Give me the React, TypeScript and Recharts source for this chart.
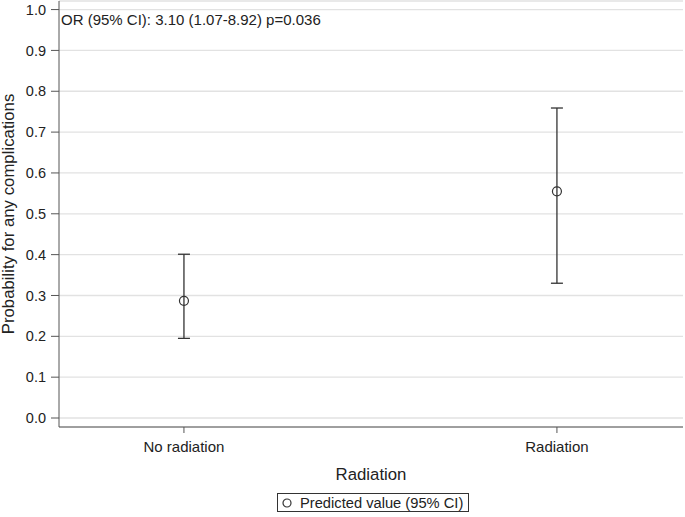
import React from "react";
import { ComposedChart, Scatter, ErrorBar, XAxis, YAxis, CartesianGrid } from "recharts";

const categories = ["No radiation", "Radiation"];
const predicted = [0.287, 0.555];
const lowerCI = [0.195, 0.33];
const upperCI = [0.401, 0.759];
const yTicks = [0, 0.1, 0.2, 0.3, 0.4, 0.5, 0.6, 0.7, 0.8, 0.9, 1.0];
const annotation = "OR (95% CI): 3.10 (1.07-8.92) p=0.036";

const data = categories.map((c, i) => ({
  x: i,
  name: c,
  y: predicted[i],
  err: [predicted[i] - lowerCI[i], upperCI[i] - predicted[i]],
}));

const FONT = "'Liberation Sans', Arial, sans-serif";
const FRAME = "#555";
const INK = "#333";

const OpenCircle = (props: any) => {
  const { cx, cy } = props;
  if (cx == null || cy == null) return null;
  return <circle cx={cx} cy={cy} r={4.5} fill="none" stroke={INK} strokeWidth={1.2} />;
};

export default function App() {
  return (
    <div style={{ position: "absolute", left: 0, top: 0, width: 685, height: 517, fontFamily: FONT }}>
      <ComposedChart width={685} height={517} data={data} margin={{ top: 1, right: 2, bottom: 30, left: 0 }}>
        <CartesianGrid horizontal vertical={false} stroke="#e2e2e2" strokeWidth={1.3} />
        <XAxis
          dataKey="x"
          type="number"
          domain={[-0.335, 1.338]}
          ticks={[0, 1]}
          tickFormatter={(v: number) => categories[v]}
          allowDataOverflow
          height={60}
          stroke={FRAME}
          tickSize={6}
          tickMargin={8}
          tick={{ fill: "#222", fontSize: 15, fontFamily: FONT }}
          label={{ value: "Radiation", position: "insideBottom", offset: 4, fill: "#222", fontSize: 16.8, fontFamily: FONT, dy: -3 }}
        />
        <XAxis xAxisId="top" orientation="top" dataKey="x" type="number" domain={[-0.335, 1.338]} height={0} tick={false} tickLine={false} stroke={FRAME} />
        <YAxis
          type="number"
          domain={[-0.022, 1.021]}
          ticks={yTicks}
          allowDataOverflow
          width={59}
          stroke={FRAME}
          tickSize={8}
          tickMargin={5}
          tickFormatter={(v: number) => v.toFixed(1)}
          tick={{ fill: "#222", fontSize: 14.5, fontFamily: FONT }}
          label={{ value: "Probability for any complications", angle: -90, position: "insideLeft", offset: 4, fill: "#222", fontSize: 16.8, fontFamily: FONT, dx: 4, style: { textAnchor: "middle" } }}
        />
        <YAxis yAxisId="right" orientation="right" domain={[-0.022, 1.021]} width={0} tick={false} tickLine={false} stroke={FRAME} />
        <Scatter dataKey="y" shape={<OpenCircle />} isAnimationActive={false}>
          <ErrorBar dataKey="err" direction="y" width={6} stroke={INK} strokeWidth={1.3} isAnimationActive={false} />
        </Scatter>
      </ComposedChart>
      <div style={{ position: "absolute", left: 61, top: 12, fontSize: 15, color: "#222", whiteSpace: "nowrap", lineHeight: "15px" }}>
        {annotation}
      </div>
      <div
        style={{
          position: "absolute",
          left: 277,
          top: 493,
          width: 192,
          height: 19,
          border: "1px solid #333",
          boxSizing: "border-box",
          display: "flex",
          alignItems: "center",
          fontSize: 14.7,
          color: "#222",
          whiteSpace: "nowrap",
        }}
      >
        <svg width={22} height={16} style={{ flex: "none" }}>
          <circle cx={9} cy={8} r={4} fill="none" stroke={INK} strokeWidth={1.2} />
        </svg>
        <span>Predicted value (95% CI)</span>
      </div>
    </div>
  );
}
